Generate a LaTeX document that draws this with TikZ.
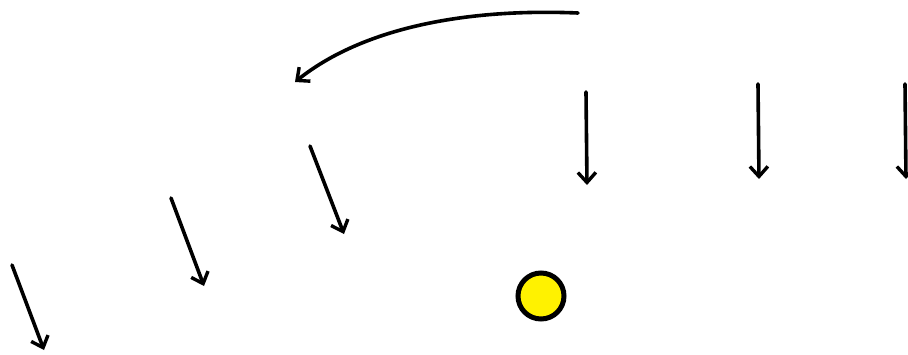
\documentclass[tikz,border=0pt]{standalone}
\usetikzlibrary{arrows.meta}
\tikzset{
  arr/.style={line width=3.6pt, line cap=round, -{Straight Barb[length=10pt,width=18pt,line width=3.4pt]}},
  sun/.style={circle, draw=black, fill=yellow, line width=5pt, minimum size=46pt, inner sep=0pt}
}
\begin{document}
\begin{tikzpicture}[x=1pt,y=-1pt]
\useasboundingbox (0,0) rectangle (908,354);
\clip (0,0) rectangle (908,354);
\coordinate (c0s) at (578,13);
\coordinate (c0e) at (295,82);
\coordinate (a1s) at (12,265);
\coordinate (a1e) at (44,350);
\coordinate (a2s) at (171,198);
\coordinate (a2e) at (204,286);
\coordinate (a3s) at (310,146);
\coordinate (a3e) at (344,234);
\coordinate (a4s) at (586,92);
\coordinate (a4e) at (587,185);
\coordinate (a5s) at (758,84);
\coordinate (a5e) at (759,179);
\coordinate (a6s) at (905,84);
\coordinate (a6e) at (906,179);
\node[sun] (sun) at (541,296) {};
\draw[arr] (c0s) .. controls (460,8) and (360,30) .. (c0e);
\draw[arr] (a1s) -- (a1e);
\draw[arr] (a2s) -- (a2e);
\draw[arr] (a3s) -- (a3e);
\draw[arr] (a4s) -- (a4e);
\draw[arr] (a5s) -- (a5e);
\draw[arr] (a6s) -- (a6e);
\end{tikzpicture}
\end{document}
